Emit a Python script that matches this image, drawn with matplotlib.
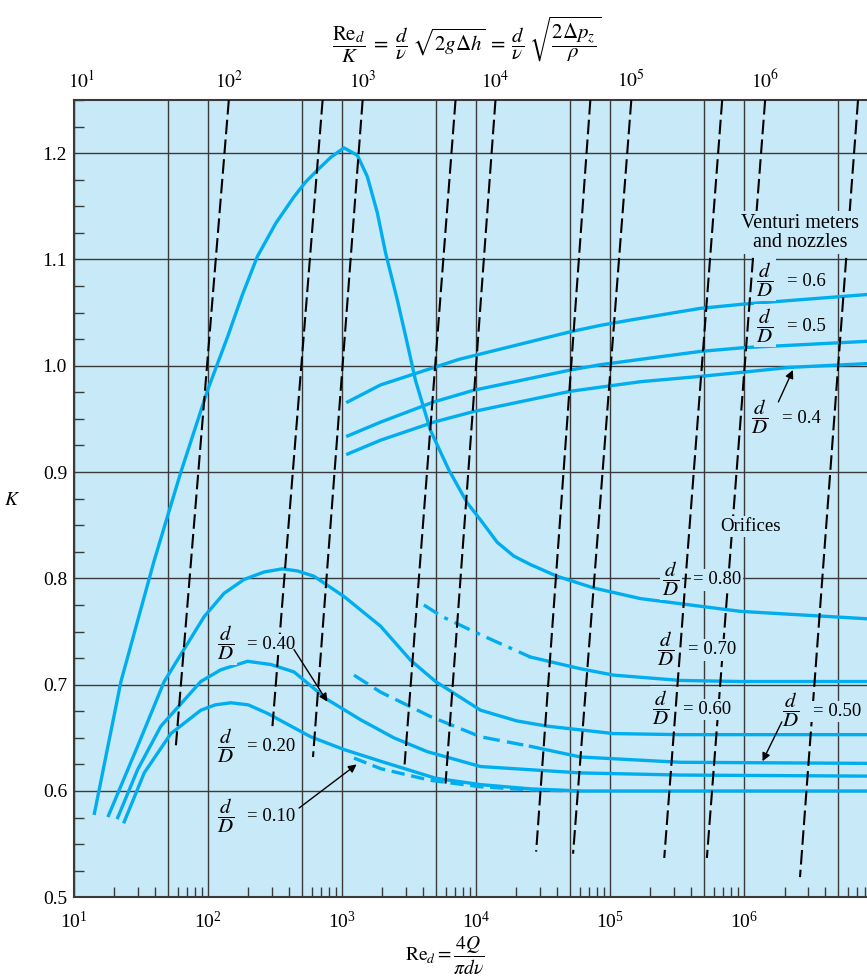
"""Flow-meter discharge coefficient chart: K versus Re_d for orifices, nozzles and venturis."""

import matplotlib

matplotlib.use("Agg")
import matplotlib.pyplot as plt
from matplotlib.ticker import (
    FixedLocator,
    FormatStrFormatter,
    LogFormatterMathtext,
    LogLocator,
    MultipleLocator,
    NullFormatter,
    NullLocator,
)

plt.rcParams["font.family"] = ["Liberation Serif", "DejaVu Serif"]
plt.rcParams["mathtext.fontset"] = "stix"

BG = "#C8E9F8"
CURVE = "#00AEEF"
GRID = "#3a3a3a"
XMIN, XMAX = 10, 8.25e6
YMIN, YMAX = 0.5, 1.25

# --- orifice curves (Re_d, K) ---
orf80_re = [14.2, 22.4, 39.7, 62.7, 99.2, 117.7, 139.7, 180.7, 233.8, 320, 438.1, 535.6,
            654.4, 822, 1033, 1300, 1543, 1832, 2113, 2583, 3066, 3535, 4574, 6261, 8585,
            10790, 14360, 19100, 25430, 40220, 75340, 167900, 933500, 8.25e6]
orf80_k = [0.579, 0.703, 0.817, 0.900, 0.977, 1.002, 1.027, 1.067, 1.103, 1.134, 1.159, 1.173,
           1.184, 1.196, 1.205, 1.198, 1.178, 1.144, 1.106, 1.062, 1.021, 0.986, 0.939, 0.902,
           0.871, 0.855, 0.834, 0.821, 0.813, 0.802, 0.791, 0.781, 0.769, 0.762]

orf70_dash_re = [4077, 5590, 10790, 25430]
orf70_dash_k = [0.775, 0.764, 0.747, 0.726]
orf70_re = [25430, 59970, 106200, 333600, 933500, 8.25e6]
orf70_k = [0.726, 0.715, 0.709, 0.704, 0.703, 0.703]

orf60_re = [18.1, 29.8, 47.1, 93.5, 131.8, 185.8, 261.8, 359, 464.5, 617.5, 1033, 1939,
            3245, 4983, 10790, 20000, 33870, 106200, 333600, 8.25e6]
orf60_k = [0.577, 0.642, 0.703, 0.764, 0.786, 0.799, 0.806, 0.809, 0.807, 0.802, 0.783, 0.755,
           0.723, 0.703, 0.676, 0.666, 0.661, 0.654, 0.653, 0.653]

orf50_dash_re = [1227, 1939, 4574, 10790, 25430]
orf50_dash_k = [0.709, 0.693, 0.670, 0.651, 0.642]
orf50_re = [25430, 59970, 333600, 8.25e6]
orf50_k = [0.642, 0.632, 0.627, 0.626]

orf40_re = [21.2, 29.8, 44.5, 88.4, 124.5, 197, 293.8, 438.1, 777, 1376, 2436, 4321, 10790,
            59970, 333600, 8.25e6]
orf40_k = [0.575, 0.620, 0.661, 0.703, 0.714, 0.722, 0.719, 0.712, 0.686, 0.667, 0.650, 0.637,
           0.623, 0.617, 0.615, 0.614]

orf20_re = [23.7, 33.4, 52.8, 88.4, 113, 147.8, 200, 277.5, 583.4, 1033, 1939, 4983, 10790,
            25430, 59970, 333600, 8.25e6]
orf20_k = [0.571, 0.617, 0.654, 0.676, 0.681, 0.683, 0.681, 0.673, 0.651, 0.639, 0.628, 0.612,
           0.606, 0.602, 0.600, 0.600, 0.600]

orf10_dash_re = [1227, 1939, 4574, 10790, 25430, 59970]
orf10_dash_k = [0.631, 0.621, 0.610, 0.604, 0.601, 0.600]

# --- venturi / nozzle curves ---
ven60_re = [1101, 1939, 7430, 50510, 84530, 141400, 470000, 988000, 8.25e6]
ven60_k = [0.966, 0.982, 1.006, 1.032, 1.038, 1.043, 1.054, 1.058, 1.067]
ven50_re = [1101, 1939, 4838, 9614, 50510, 84530, 470000, 988000, 8.25e6]
ven50_k = [0.934, 0.947, 0.966, 0.977, 0.996, 1.001, 1.0135, 1.017, 1.023]
ven40_re = [1101, 1939, 4838, 9614, 50510, 167900, 470000, 988000, 2.2e6, 8.25e6]
ven40_k = [0.917, 0.930, 0.947, 0.957, 0.976, 0.985, 0.990, 0.994, 0.9985, 1.002]

# --- lines of constant Re_d/K (top end at K = YMAX, bottom end given) ---
rek_top_re = [142.9, 716, 1424, 7023, 13950, 71200, 143900, 685500, 1.434e6, 7.07e6]
rek_bot_re = [57.6, 302.4, 607, 2928, 5915, 28050, 52900, 253400, 527000, 2.61e6]
rek_bot_k = [0.643, 0.661, 0.632, 0.625, 0.607, 0.543, 0.541, 0.537, 0.537, 0.519]

top_tick_re = [11.3, 142.9, 1424, 13950, 143900, 1.434e6]
top_tick_labels = [r"$10^{1}$", r"$10^{2}$", r"$10^{3}$", r"$10^{4}$", r"$10^{5}$", r"$10^{6}$"]

fig = plt.figure(figsize=(8.67, 9.8), dpi=100)
ax = fig.add_axes([74 / 867, 1 - 897.3 / 980, 793 / 867, 797.3 / 980])
ax.set_xscale("log")
ax.set_xlim(XMIN, XMAX)
ax.set_ylim(YMIN, YMAX)
ax.set_facecolor(BG)
ax.set_axisbelow(True)

ax.xaxis.set_major_locator(LogLocator(base=10, subs=(1.0, 5.0), numticks=20))
ax.xaxis.set_major_formatter(LogFormatterMathtext(labelOnlyBase=True))
ax.xaxis.set_minor_locator(LogLocator(base=10, subs=(2, 3, 4, 6, 7, 8, 9), numticks=20))
ax.xaxis.set_minor_formatter(NullFormatter())
ax.yaxis.set_major_locator(MultipleLocator(0.1))
ax.yaxis.set_major_formatter(FormatStrFormatter("%.1f"))
ax.yaxis.set_minor_locator(MultipleLocator(0.025))

ax.tick_params(axis="x", which="major", length=0, pad=10, labelsize=14)
ax.tick_params(axis="y", which="major", length=0, pad=5, labelsize=14)
ax.tick_params(which="minor", direction="in", length=7, width=1.0, color=GRID,
               top=False, right=False)
ax.grid(True, which="major", color=GRID, linewidth=1.0)

ax.spines["right"].set_visible(False)
for side in ("left", "bottom", "top"):
    ax.spines[side].set_color(GRID)
    ax.spines[side].set_linewidth(1.5)

# constant Re_d/K dashed lines
for tr, br, bk in zip(rek_top_re, rek_bot_re, rek_bot_k):
    ax.plot([tr, br], [YMAX, bk], color="black", linewidth=1.5, dashes=(7, 2.5), zorder=6.5)

solid = dict(color=CURVE, linewidth=2.4, solid_joinstyle="round", zorder=6)
for re, k in [(orf80_re, orf80_k), (orf70_re, orf70_k), (orf60_re, orf60_k),
              (orf50_re, orf50_k), (orf40_re, orf40_k), (orf20_re, orf20_k),
              (ven60_re, ven60_k), (ven50_re, ven50_k), (ven40_re, ven40_k)]:
    ax.plot(re, k, **solid)
ax.plot(orf50_dash_re, orf50_dash_k, color=CURVE, linewidth=2.4, dashes=(5, 2.2), zorder=6)
ax.plot(orf10_dash_re, orf10_dash_k, color=CURVE, linewidth=2.4, dashes=(4, 2), zorder=6)
ax.plot(orf70_dash_re, orf70_dash_k, color=CURVE, linewidth=2.4,
        dashes=(5, 2.2, 1.2, 2.2), zorder=6)

box = dict(boxstyle="square,pad=0.12", facecolor=BG, edgecolor="none")
frac = r"$\dfrac{d}{D}$"


def ratio_label(x, y, value):
    ax.text(x, y, frac, fontsize=15, ha="left", va="center", bbox=box, zorder=7)
    ax.annotate("= " + value, (x, y), xytext=(22, -1), textcoords="offset points",
                fontsize=13.5, ha="left", va="center", bbox=box, zorder=7)


ax.text(2.61e6, 1.125, "Venturi meters\nand nozzles", fontsize=14.5, ha="center",
        va="center", linespacing=1.0, bbox=box, zorder=7)
ax.text(1.109e6, 0.849, "Orifices", fontsize=13.5, ha="center", va="center",
        bbox=box, zorder=7)
ratio_label(1.229e6, 1.081, "0.6")
ratio_label(1.229e6, 1.038, "0.5")
ratio_label(1.128e6, 0.952, "0.4")
ratio_label(2.449e5, 0.800, "0.80")
ratio_label(2.247e5, 0.734, "0.70")
ratio_label(2.063e5, 0.678, "0.60")
ratio_label(1.92e6, 0.676, "0.50")
ratio_label(116.3, 0.739, "0.40")
ratio_label(116.3, 0.643, "0.20")
ratio_label(116.3, 0.577, "0.10")

arrow = dict(arrowstyle="-|>", color="black", linewidth=1.0, mutation_scale=12,
             shrinkA=0, shrinkB=0)
ax.annotate("", xy=(2.31e6, 0.996), xytext=(1.80e6, 0.966), arrowprops=arrow, zorder=8)
ax.annotate("", xy=(1.37e6, 0.628), xytext=(1.91e6, 0.665), arrowprops=arrow, zorder=8)
ax.annotate("", xy=(777, 0.684), xytext=(438, 0.733), arrowprops=arrow, zorder=8)
ax.annotate("", xy=(1285, 0.625), xytext=(478, 0.584), arrowprops=arrow, zorder=8)

ax.set_ylabel(r"$K$", rotation=0, fontsize=14, va="center")
ax.yaxis.set_label_coords(-0.078, 0.498)
ax.set_xlabel(r"$\mathrm{Re}_d = \dfrac{4Q}{\pi d\nu}$", fontsize=14, va="center")
ax.xaxis.set_label_coords(0.468, -0.074)

# top axis: Re_d / K
ax2 = ax.twiny()
ax2.set_xscale("log")
ax2.set_xlim(XMIN, XMAX)
ax2.xaxis.set_major_locator(FixedLocator(top_tick_re))
ax2.set_xticklabels(top_tick_labels)
ax2.xaxis.set_minor_locator(NullLocator())
ax2.tick_params(axis="x", length=0, pad=6, labelsize=14)
for side in ax2.spines:
    ax2.spines[side].set_visible(False)

fig.text(467 / 867, 1 - 40 / 980,
         r"$\dfrac{\mathrm{Re}_d}{K}\;=\;\dfrac{d}{\nu}\;\sqrt{2g\Delta h}\;=\;"
         r"\dfrac{d}{\nu}\;\sqrt{\dfrac{2\Delta p_z}{\rho}}$",
         ha="center", va="center", fontsize=15)

fig.savefig("out.png", dpi=100, facecolor="white")
